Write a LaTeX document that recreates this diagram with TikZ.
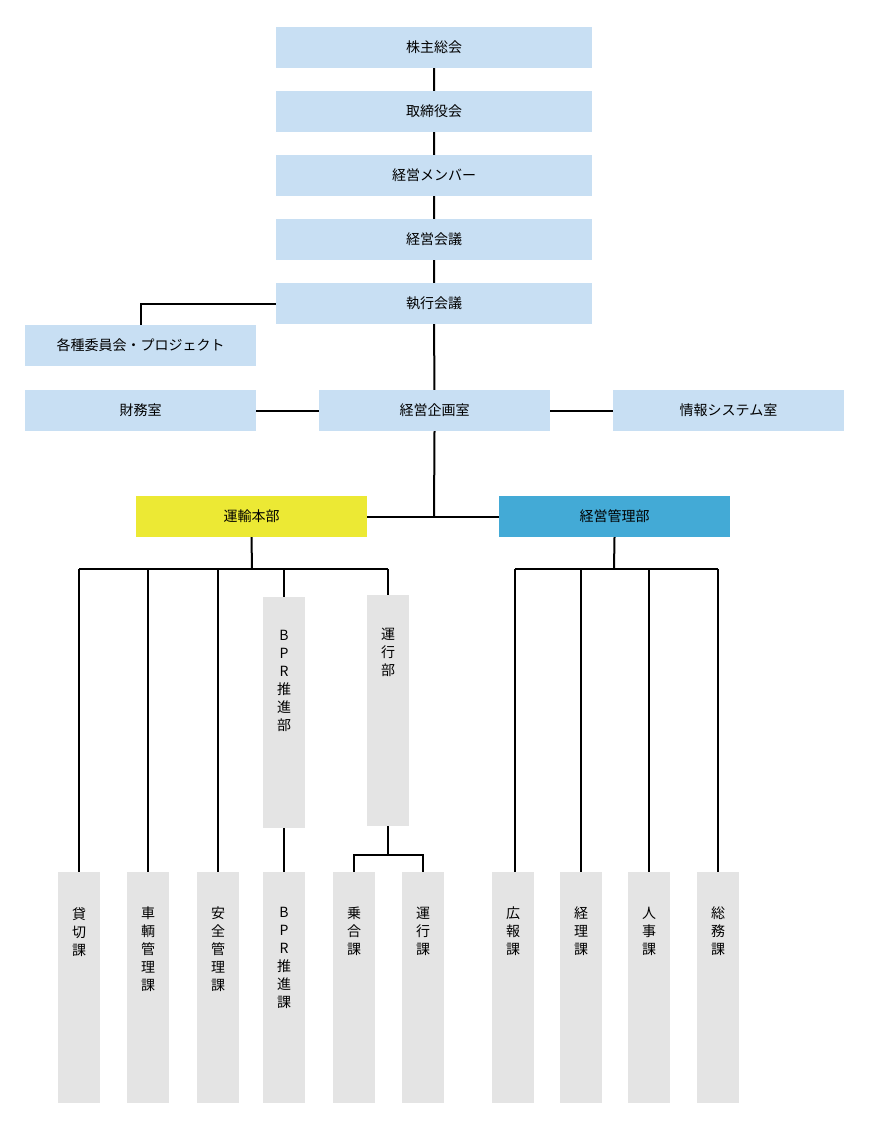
\documentclass[tikz,border=0pt]{standalone}
\usepackage{fontspec}
\setmainfont{Noto Sans CJK JP}
\definecolor{lb}{RGB}{200,223,243}
\definecolor{gy}{RGB}{228,228,228}
\definecolor{yl}{RGB}{236,233,52}
\definecolor{bl}{RGB}{67,170,214}
\begin{document}
\begin{tikzpicture}[x=1pt,y=-1pt,
 box/.style={fill=#1,draw=none,minimum width=231pt,minimum height=41pt,inner sep=0pt,font=\fontsize{14}{16}\selectfont},
 wide/.style={box=lb,minimum width=316pt},
 vbox/.style={fill=gy,draw=none,minimum width=42pt,minimum height=231pt,inner sep=0pt},
 vt/.style={anchor=north,align=center,font=\fontsize{14}{18}\selectfont,inner sep=0pt},
 ln/.style={line width=2pt}]
\useasboundingbox (0,0) rectangle (870,1129);
\node[wide] (a) at (434,47.5) {株主総会};
\node[wide] (b) at (434,111.5) {取締役会};
\node[wide] (c) at (434,175.5) {経営メンバー};
\node[wide] (d) at (434,239.5) {経営会議};
\node[wide] (e) at (434,303.5) {執行会議};
\node[box=lb] (f) at (140.5,345.5) {各種委員会・プロジェクト};
\node[box=lb] (g) at (140.5,410.5) {財務室};
\node[box=lb] (h) at (434.5,410.5) {経営企画室};
\node[box=lb] (i) at (728.5,410.5) {情報システム室};
\node[box=yl] (j) at (251.5,516.5) {運輸本部};
\node[box=bl] (k) at (614.5,516.5) {経営管理部};
\node[vbox,minimum height=231pt] (bprb) at (284,712.5) {};
\node[vt] at (284,630) {B\\P\\R\\推\\進\\部};
\node[vbox] (unk) at (388,710.5) {};
\node[vt] at (388,628) {運\\行\\部};
\foreach \n/\x/\t in {s1/79/貸\\切\\課, s2/148/車\\輌\\管\\理\\課, s3/218/安\\全\\管\\理\\課, s4/284/B\\P\\R\\推\\進\\課, s5/354/乗\\合\\課, s6/423/運\\行\\課, s7/513/広\\報\\課, s8/581/経\\理\\課, s9/649/人\\事\\課, s10/718/総\\務\\課}{
 \node[vbox] (\n) at (\x,987.5) {};
 \node[vt] at (\x,907) {\t};
}
\draw[ln] (a)--(b) (b)--(c) (c)--(d) (d)--(e) (e)--(h);
\draw[ln] (e.west) -| (f.north);
\draw[ln] (g)--(h) (h)--(i);
\draw[ln] (h.south) -- (434,517) coordinate (m);
\draw[ln] (j.east)--(k.west);
\draw[ln] (j.south) -- (252,569) coordinate (p);
\draw[ln] (79,569) -- (388,569);
\draw[ln] (79,569)--(s1.north) (148,569)--(s2.north) (218,569)--(s3.north) (284,569)--(bprb.north) (388,569)--(unk.north);
\draw[ln] (bprb.south)--(s4.north);
\draw[ln] (unk.south)--(388,855) coordinate (q);
\draw[ln] (s5.north)--(354,855)--(423,855)--(s6.north);
\draw[ln] (k.south)--(614,569) coordinate (r);
\draw[ln] (515,569)--(718,569);
\draw[ln] (515,569)--(515,872) (581,569)--(s8.north) (649,569)--(s9.north) (718,569)--(s10.north);
\end{tikzpicture}
\end{document}
